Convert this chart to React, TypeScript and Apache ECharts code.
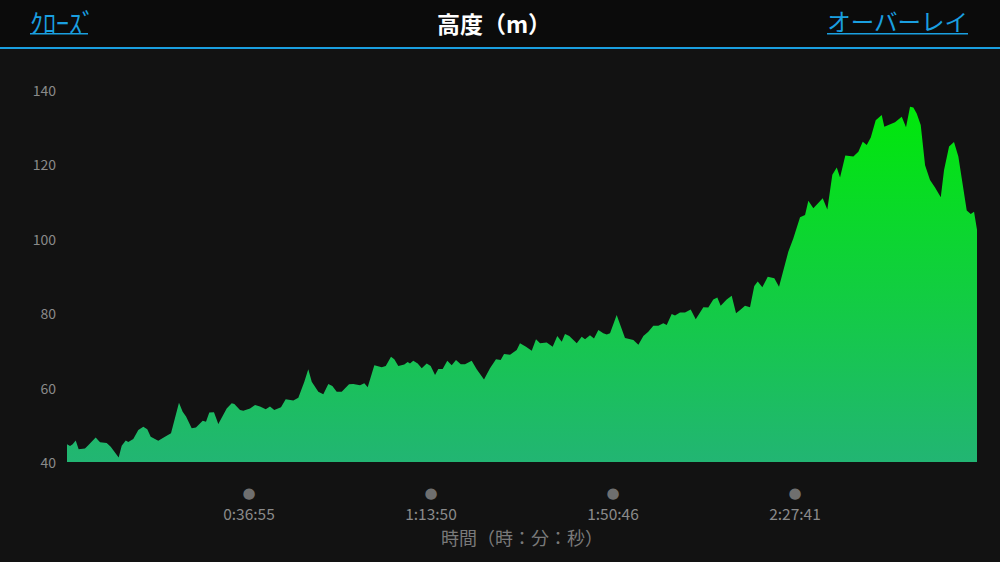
import React, { useEffect, useRef } from "react";
import * as echarts from "echarts";

// elapsed time in seconds
const times: number[] = [
  0, 37, 69, 106, 142, 219, 259, 349, 402, 483, 532, 629, 666, 715, 746, 807, 868, 929, 977, 1019,
  1111, 1172, 1266, 1363, 1408, 1449, 1518, 1570, 1652, 1692, 1732, 1789, 1842, 1944, 2005, 2037, 2106, 2146,
  2228, 2289, 2349, 2419, 2471, 2523, 2605, 2662, 2755, 2816, 2889, 2937, 2979, 3059, 3120, 3181, 3230, 3283,
  3344, 3433, 3485, 3567, 3619, 3660, 3741, 3831, 3880, 3944, 3984, 4033, 4106, 4147, 4175, 4215, 4269, 4318,
  4379, 4427, 4480, 4520, 4573, 4629, 4683, 4735, 4793, 4845, 4926, 4987, 5076, 5149, 5222, 5279, 5320, 5393,
  5474, 5514, 5587, 5657, 5709, 5758, 5839, 5912, 5968, 6022, 6062, 6114, 6205, 6265, 6306, 6366, 6415, 6468,
  6528, 6570, 6610, 6691, 6792, 6894, 6955, 7016, 7076, 7137, 7198, 7259, 7300, 7361, 7401, 7462, 7523, 7592,
  7653, 7746, 7806, 7867, 7916, 7957, 8030, 8091, 8144, 8201, 8253, 8314, 8366, 8408, 8464, 8530, 8610, 8667,
  8780, 8841, 8923, 8984, 9024, 9085, 9199, 9255, 9316, 9370, 9410, 9474, 9572, 9633, 9686, 9735, 9784, 9844,
  9917, 9949, 10079, 10161, 10213, 10262, 10302, 10343, 10392, 10445, 10505, 10566, 10636, 10676, 10737, 10797,
  10850, 10891, 10952, 11001, 11041, 11077,
];

// elevation in metres
const elevations: number[] = [
  44.8, 44.3, 44.8, 45.8, 43.4, 43.6, 44.5, 46.6, 45.3, 45.1, 44.1, 41.2, 44.4, 45.8, 45.4, 46.2, 48.6, 49.5, 48.8, 46.8,
  45.7, 46.5, 47.7, 55.9, 53.5, 52.2, 49.1, 49.3, 51.1, 50.8, 53.3, 53.4, 50.2, 54.4, 55.8, 55.6, 54.0, 53.8,
  54.4, 55.3, 54.9, 54.2, 54.9, 54.0, 54.7, 56.9, 56.5, 57.3, 61.6, 64.9, 61.6, 58.9, 58.2, 61.0, 60.4, 58.9,
  58.9, 60.9, 61.0, 60.6, 61.2, 60.1, 66.0, 65.5, 65.8, 68.3, 67.6, 65.8, 66.2, 66.9, 66.5, 67.2, 66.5, 65.2,
  66.5, 65.8, 63.4, 65.0, 65.0, 67.2, 66.0, 67.4, 66.3, 66.3, 67.2, 64.9, 62.2, 65.2, 67.6, 67.4, 69.0, 68.8,
  70.1, 71.9, 71.0, 69.9, 73.0, 71.9, 72.1, 71.0, 73.9, 72.3, 74.4, 73.9, 71.9, 73.7, 73.0, 74.1, 73.2, 75.5,
  74.6, 74.3, 74.6, 79.5, 73.3, 72.8, 71.5, 73.9, 75.0, 76.6, 76.6, 77.3, 76.8, 79.8, 79.4, 80.2, 80.2, 81.0,
  78.4, 81.6, 81.5, 83.7, 84.2, 82.0, 83.7, 84.7, 80.0, 81.0, 82.0, 81.6, 87.3, 88.5, 87.0, 89.8, 89.4, 87.1,
  96.5, 100.1, 105.8, 106.4, 110.2, 108.2, 110.9, 107.9, 117.2, 119.2, 116.5, 122.4, 122.1, 123.4, 126.1, 125.2, 127.2, 131.9,
  133.3, 130.1, 131.3, 132.8, 130.0, 135.5, 135.3, 133.7, 130.6, 119.8, 115.8, 113.8, 111.2, 118.5, 124.8, 126.0,
  122.1, 116.3, 107.6, 106.7, 107.3, 102.4,
];

const yTicks: number[] = [40, 60, 80, 100, 120, 140];
const xTickLabels: string[] = ["0:36:55", "1:13:50", "1:50:46", "2:27:41"];
const totalSeconds = 11077;

const titleText = "高度（m）";
const leftLink = "ｸﾛｰｽﾞ";
const rightLink = "オーバーレイ";
const xAxisName = "時間（時：分：秒）";

export default function App() {
  const ref = useRef<HTMLDivElement>(null);

  useEffect(() => {
    if (!ref.current) return;
    const chart = echarts.init(ref.current, null, { renderer: "svg" });
    const blue = "#1a9fe0";
    const font = "'Noto Sans CJK JP', 'Noto Sans', sans-serif";
    const interval = totalSeconds / 5;

    chart.setOption({
      animation: false,
      backgroundColor: "#121212",
      textStyle: { fontFamily: font },
      graphic: [
        { type: "rect", shape: { x: 0, y: 0, width: 1000, height: 47 }, style: { fill: "#0b0b0b" }, z: 0 },
        { type: "rect", shape: { x: 0, y: 47, width: 1000, height: 2 }, style: { fill: blue }, z: 1 },
        {
          type: "text", x: 494, y: 23,
          style: { text: titleText, fill: "#ffffff", fontSize: 23, fontWeight: "bold", align: "center", verticalAlign: "middle", fontFamily: font },
        },
        {
          type: "text", x: 30, y: 21,
          style: { text: leftLink, fill: blue, fontSize: 26, align: "left", verticalAlign: "middle", fontFamily: font },
        },
        { type: "rect", shape: { x: 30, y: 33, width: 58, height: 1.5 }, style: { fill: blue } },
        {
          type: "text", x: 968, y: 21,
          style: { text: rightLink, fill: blue, fontSize: 23.5, align: "right", verticalAlign: "middle", fontFamily: font },
        },
        { type: "rect", shape: { x: 827, y: 33, width: 141, height: 1.5 }, style: { fill: blue } },
      ],
      grid: { left: 67, right: 23, top: 90, bottom: 100 },
      xAxis: {
        type: "value",
        min: 0,
        max: totalSeconds,
        interval,
        axisLine: { show: false },
        axisTick: { show: false },
        splitLine: { show: false },
        axisLabel: {
          margin: 21,
          formatter: (v: number) => {
            const i = Math.round(v / interval) - 1;
            if (i < 0 || i >= xTickLabels.length) return "";
            return "{d|●}\n{t|" + xTickLabels[i] + "}";
          },
          rich: {
            d: { color: "#6f6f6f", fontSize: 15, lineHeight: 20, fontFamily: "DejaVu Sans" },
            t: { color: "#8a8a8a", fontSize: 15.5, lineHeight: 20, fontFamily: font },
          },
        },
        name: xAxisName,
        nameLocation: "middle",
        nameGap: 66,
        nameTextStyle: { color: "#7a7a7a", fontSize: 18, fontFamily: font },
      },
      yAxis: {
        type: "value",
        min: yTicks[0],
        max: yTicks[yTicks.length - 1],
        interval: yTicks[1] - yTicks[0],
        axisLine: { show: false },
        axisTick: { show: false },
        splitLine: { show: false },
        axisLabel: { color: "#8a8a8a", fontSize: 14, margin: 11, fontFamily: font },
      },
      series: [
        {
          type: "line",
          data: times.map((t, i) => [t, elevations[i]]),
          showSymbol: false,
          lineStyle: { width: 0 },
          areaStyle: {
            opacity: 1,
            color: new echarts.graphic.LinearGradient(0, 0, 0, 1, [
              { offset: 0, color: "#00e80a" },
              { offset: 1, color: "#22b573" },
            ]),
          },
        },
      ],
    });
    return () => chart.dispose();
  }, []);

  return <div ref={ref} style={{ position: "fixed", left: 0, top: 0, width: 1000, height: 562 }} />;
}
